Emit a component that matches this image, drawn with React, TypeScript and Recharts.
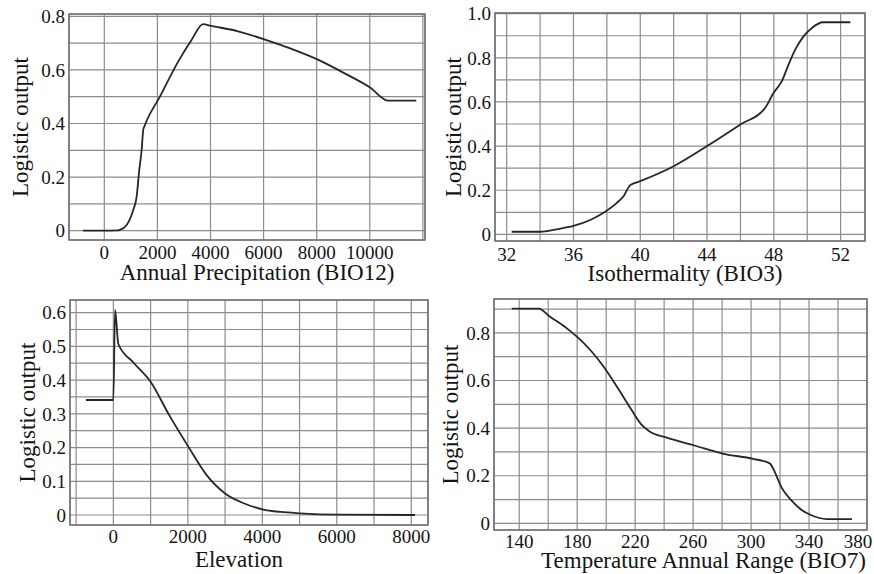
import { LineChart, Line, XAxis, YAxis, CartesianGrid, ReferenceArea, Text } from 'recharts';

// response curves
const precipX = [-800, 0, 500, 590, 842, 1090, 1218, 1316, 1406, 1466, 1530, 2094, 2782, 3286, 3722, 4000, 5000, 6000, 7000, 8000, 9000, 10000, 10700, 11750];
const precipY = [0, 0, 0.001, 0.003, 0.021, 0.077, 0.127, 0.226, 0.301, 0.376, 0.394, 0.5, 0.631, 0.712, 0.771, 0.765, 0.745, 0.715, 0.68, 0.64, 0.59, 0.535, 0.485, 0.485];

const isoX = [32.3, 34, 35, 36, 37, 37.8, 38.6, 39, 39.4, 40, 42, 44, 46, 47.48, 47.98, 48.48, 48.88, 49.28, 49.78, 50.28, 50.94, 52.58];
const isoY = [0.012, 0.012, 0.023, 0.038, 0.065, 0.098, 0.143, 0.173, 0.223, 0.241, 0.309, 0.4, 0.498, 0.573, 0.641, 0.694, 0.769, 0.837, 0.897, 0.935, 0.961, 0.961];

const elevX = [-734, 0, 46, 134, 538, 1000, 1500, 2000, 2500, 3000, 3500, 4000, 4500, 5000, 6000, 8100];
const elevY = [0.341, 0.341, 0.608, 0.507, 0.452, 0.395, 0.296, 0.205, 0.119, 0.064, 0.035, 0.017, 0.009, 0.005, 0.001, 0];

const rangeX = [134.9, 153.4, 161.5, 173.1, 180, 189.2, 198.5, 207.7, 217, 223.9, 229.7, 240.8, 260.9, 281, 301.4, 312.9, 316.4, 321, 328, 334.9, 341.2, 352.3, 369.6];
const rangeY = [0.902, 0.902, 0.867, 0.818, 0.783, 0.727, 0.656, 0.572, 0.481, 0.418, 0.387, 0.362, 0.327, 0.292, 0.271, 0.252, 0.215, 0.151, 0.095, 0.056, 0.035, 0.018, 0.018];

// grid lines and which of them carry a label
const precipXGrid = [0, 2000, 4000, 6000, 8000, 10000, 12000];
const precipXLabels = [0, 2000, 4000, 6000, 8000, 10000];
const precipYGrid = [0, 0.1, 0.2, 0.3, 0.4, 0.5, 0.6, 0.7, 0.8];
const precipYLabels = [0, 0.2, 0.4, 0.6, 0.8];

const isoXGrid = [32, 34, 36, 38, 40, 42, 44, 46, 48, 50, 52];
const isoXLabels = [32, 36, 40, 44, 48, 52];
const isoYGrid = [0, 0.1, 0.2, 0.3, 0.4, 0.5, 0.6, 0.7, 0.8, 0.9, 1];
const isoYLabels = [0, 0.2, 0.4, 0.6, 0.8, 1];

const elevXGrid = [-1000, 0, 1000, 2000, 3000, 4000, 5000, 6000, 7000, 8000];
const elevXLabels = [0, 2000, 4000, 6000, 8000];
const elevYGrid = [0, 0.05, 0.1, 0.15, 0.2, 0.25, 0.3, 0.35, 0.4, 0.45, 0.5, 0.55, 0.6];
const elevYLabels = [0, 0.1, 0.2, 0.3, 0.4, 0.5, 0.6];

const rangeXGrid = [140, 160, 180, 200, 220, 240, 260, 280, 300, 320, 340, 360, 380];
const rangeXLabels = [140, 180, 220, 260, 300, 340, 380];
const rangeYGrid = [0, 0.1, 0.2, 0.3, 0.4, 0.5, 0.6, 0.7, 0.8, 0.9];
const rangeYLabels = [0, 0.2, 0.4, 0.6, 0.8];

const zip = (xs: number[], ys: number[]) => xs.map((x, i) => ({ x, y: ys[i] }));

const GRID = '#8c8c8c';
const INK = '#141414';
const FONT = "'Liberation Serif', 'DejaVu Serif', 'Times New Roman', serif";
const fontStyle = { fontFamily: FONT };

interface PanelProps {
  left: number;
  top: number;
  data: { x: number; y: number }[];
  xDomain: [number, number];
  yDomain: [number, number];
  xGrid: number[];
  xLabels: number[];
  yGrid: number[];
  yLabels: number[];
  xTitle: string;
  margin: { top: number; right: number; left: number; bottom: number };
  yAxisWidth: number;
  xAxisHeight: number;
  tickGap: number;
  yTitleX: number;
  xTitleDx: number;
  lastShift?: number;
}

function Panel(p: PanelProps) {
  const lastLabel = p.xLabels[p.xLabels.length - 1];
  const renderXTick = (props: any) => {
    const v = props.payload.value;
    if (!p.xLabels.includes(v)) return <g />;
    const shift = v === lastLabel ? p.lastShift || 0 : 0;
    return (
      <Text
        x={props.x + shift}
        y={props.y}
        textAnchor="middle"
        verticalAnchor="start"
        fontSize={19}
        fill={INK}
        style={fontStyle}
      >
        {String(v)}
      </Text>
    );
  };
  const renderYTick = (props: any) => {
    const v = props.payload.value;
    if (!p.yLabels.includes(v)) return <g />;
    return (
      <Text x={props.x} y={props.y} textAnchor="end" verticalAnchor="middle" fontSize={19} fill={INK} style={fontStyle}>
        {v === 0 ? '0' : v.toFixed(1)}
      </Text>
    );
  };

  return (
    <div style={{ position: 'absolute', left: p.left, top: p.top }}>
      <LineChart width={437} height={287} data={p.data} margin={p.margin} style={fontStyle}>
        <CartesianGrid stroke={GRID} strokeWidth={1.2} />
        <XAxis
          dataKey="x"
          type="number"
          domain={p.xDomain}
          ticks={p.xGrid}
          allowDataOverflow
          interval={0}
          axisLine={false}
          tickLine={false}
          tickSize={0}
          tickMargin={p.tickGap}
          height={p.xAxisHeight}
          tick={renderXTick}
          label={{
            value: p.xTitle,
            position: 'insideBottom',
            offset: 0,
            dx: p.xTitleDx,
            fontSize: 23,
            fill: INK,
            style: fontStyle,
          }}
        />
        <YAxis
          type="number"
          domain={p.yDomain}
          ticks={p.yGrid}
          allowDataOverflow
          interval={0}
          axisLine={false}
          tickLine={false}
          tickSize={0}
          tickMargin={4}
          width={p.yAxisWidth}
          tick={renderYTick}
          label={{
            value: 'Logistic output',
            angle: -90,
            position: 'insideLeft',
            offset: p.yTitleX - p.margin.left,
            fontSize: 23,
            fill: INK,
            style: { textAnchor: 'middle', fontFamily: FONT },
          }}
        />
        <ReferenceArea
          x1={p.xDomain[0]}
          x2={p.xDomain[1]}
          y1={p.yDomain[0]}
          y2={p.yDomain[1]}
          fill="none"
          stroke="#6f6f6f"
          strokeWidth={1.5}
          ifOverflow="visible"
        />
        <Line type="monotone" dataKey="y" stroke="#262626" strokeWidth={1.8} dot={false} isAnimationActive={false} />
      </LineChart>
    </div>
  );
}

export default function App() {
  return (
    <div
      style={{
        position: 'absolute',
        left: 0,
        top: 0,
        width: 874,
        height: 574,
        background: '#fff',
        fontFamily: FONT,
      }}
    >
      <Panel
        left={0}
        top={0}
        data={zip(precipX, precipY)}
        xDomain={[-1330, 12080]}
        yDomain={[-0.0347, 0.8086]}
        xGrid={precipXGrid}
        xLabels={precipXLabels}
        yGrid={precipYGrid}
        yLabels={precipYLabels}
        xTitle="Annual Precipitation (BIO12)"
        margin={{ top: 14, right: 12, left: 0, bottom: 7 }}
        yAxisWidth={69}
        xAxisHeight={40}
        tickGap={6}
        yTitleX={20}
        xTitleDx={10}
      />
      <Panel
        left={437}
        top={0}
        data={zip(isoX, isoY)}
        xDomain={[31.3, 53.46]}
        yDomain={[-0.03, 1.003]}
        xGrid={isoXGrid}
        xLabels={isoXLabels}
        yGrid={isoYGrid}
        yLabels={isoYLabels}
        xTitle="Isothermality (BIO3)"
        margin={{ top: 13, right: 9, left: 0, bottom: 6 }}
        yAxisWidth={58}
        xAxisHeight={40}
        tickGap={7}
        yTitleX={16}
        xTitleDx={5}
      />
      <Panel
        left={0}
        top={287}
        data={zip(elevX, elevY)}
        xDomain={[-1164, 8449]}
        yDomain={[-0.0296, 0.6374]}
        xGrid={elevXGrid}
        xLabels={elevXLabels}
        yGrid={elevYGrid}
        yLabels={elevYLabels}
        xTitle="Elevation"
        margin={{ top: 13, right: 9, left: 0, bottom: 7 }}
        yAxisWidth={70}
        xAxisHeight={42}
        tickGap={5}
        yTitleX={27}
        xTitleDx={-10}
      />
      <Panel
        left={437}
        top={287}
        data={zip(rangeX, rangeY)}
        xDomain={[122.6, 380]}
        yDomain={[-0.028, 0.9424]}
        xGrid={rangeXGrid}
        xLabels={rangeXLabels}
        yGrid={rangeYGrid}
        yLabels={rangeYLabels}
        xTitle="Temperature Annual Range (BIO7)"
        margin={{ top: 12, right: 7, left: 0, bottom: 6 }}
        yAxisWidth={57}
        xAxisHeight={38}
        tickGap={5}
        yTitleX={13}
        xTitleDx={23}
        lastShift={-9}
      />
    </div>
  );
}
